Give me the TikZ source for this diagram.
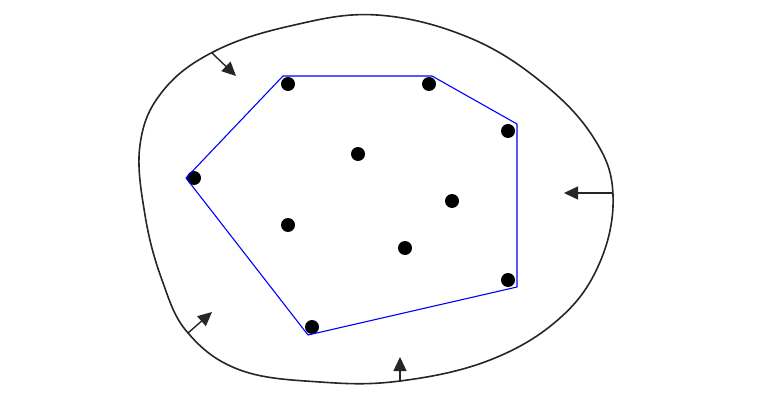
\documentclass[tikz,border=0pt]{standalone}
\usetikzlibrary{arrows.meta}
\tikzstyle{point} = [circle, fill=black, inner sep=0pt, minimum size=14pt]
\tikzstyle{region} = [line width=1.6pt, black!85]
\tikzstyle{hull} = [blue, line width=1.1pt, line join=round]
\tikzstyle{push} = [-{Triangle[length=14pt, width=13pt]}, line width=1.4pt, black!85]
\begin{document}
\begin{tikzpicture}[x=1pt, y=-1pt]
    \useasboundingbox (0,0) rectangle (762,406);

    % Boundary of the region.
    \draw [region] plot [smooth cycle, tension=0.65] coordinates {
        (377,15) (470,38) (545,85) (595,140) (613,195) (600,262)
        (560,318) (490,360) (400,381) (320,382) (240,370) (188,333)
        (162,280) (145,215) (140,145) (162,92) (213,52) (290,26)};

    % Points.
    \node (p1) [point] at (288,84) {};
    \node (p2) [point] at (429,84) {};
    \node (p3) [point] at (508,131) {};
    \node (p4) [point] at (358,154) {};
    \node (p5) [point] at (194,178) {};
    \node (p6) [point] at (452,201) {};
    \node (p7) [point] at (288,225) {};
    \node (p8) [point] at (405,248) {};
    \node (p9) [point] at (508,280) {};
    \node (p10) [point] at (312,327) {};

    % Corners of the hull.
    \coordinate (h1) at (283,76);
    \coordinate (h2) at (432,76);
    \coordinate (h3) at (517,124);
    \coordinate (h4) at (517,287);
    \coordinate (h5) at (308,335);
    \coordinate (h6) at (186,178);
    \draw [hull] (h1) -- (h2) -- (h3) -- (h4) -- (h5) -- (h6) -- cycle;

    % Arrows.
    \coordinate (from 1) at (212,53);
    \coordinate (to 1) at (236,76);
    \coordinate (from 2) at (188,333);
    \coordinate (to 2) at (212,312);
    \coordinate (from 3) at (400,382);
    \coordinate (to 3) at (400,357);
    \coordinate (from 4) at (613,193);
    \coordinate (to 4) at (564,193);
    \foreach \i in {1, ..., 4} {%
        \draw [push] (from \i) -- (to \i);
    }
\end{tikzpicture}
\end{document}
